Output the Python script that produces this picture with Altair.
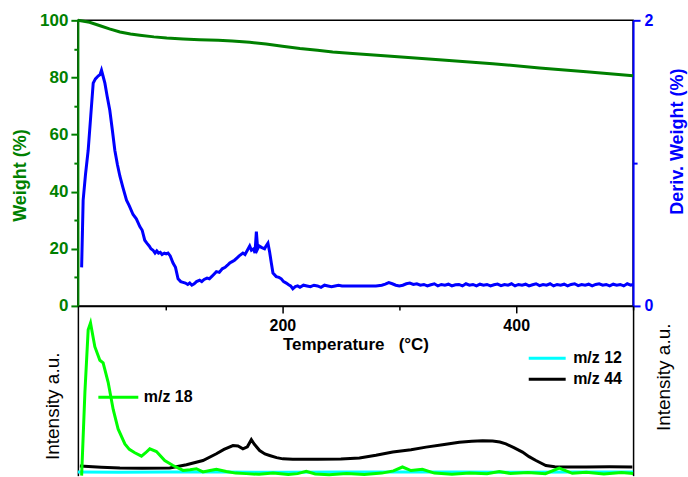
import altair as alt
import pandas as pd

# ---------------- data ----------------
weight_T = [25, 35, 44, 52, 61, 70, 78, 90, 101, 115, 129, 145, 157, 172, 186, 200, 215, 230, 243, 260, 290, 334, 380, 420, 460, 500]
weight_W = [100, 99.3, 98.1, 97.0, 95.9, 95.2, 94.8, 94.2, 93.8, 93.5, 93.2, 93.0, 92.8, 92.3, 91.7, 90.9, 90.1, 89.5, 88.9, 88.4, 87.5, 86.2, 84.8, 83.3, 82.0, 80.6]

deriv_T = [28.2, 29.5, 31.5, 33.8, 36, 38.1, 40, 42.3, 44, 45.2, 46.5, 48.1, 50, 52.3, 54.5, 56.6, 58.8, 60.9, 63.5, 66.6,
           69, 72.2, 75, 78, 80, 82.2, 84, 86, 87.5, 89.3, 91, 92.5, 94, 95.5, 97, 99, 100.5, 102.1, 104, 106.4,
           108.5, 110.7, 113, 115, 117, 119, 120.7, 122.5, 124.5, 126.5, 129.2, 131, 133, 135.5, 137.5, 140, 143.5, 146, 148.5, 151,
           153, 154.9, 157, 159, 161, 163, 166.2, 168, 170, 172, 173.5, 175.4, 176.5, 177.7, 178.8, 180, 182, 184.7, 186, 187.6,
           189, 190.5, 191.9, 194.7, 197, 199, 201, 203.3, 205, 207, 208.9, 211, 213, 215, 218, 221, 224, 227, 230, 233,
           236, 239, 242, 245, 248, 251, 256, 262, 268, 274, 280, 285, 288, 291, 294, 297, 300, 303, 306, 309,
           312, 315, 318, 321, 324, 327, 330, 333, 336, 339, 342, 345, 348, 351, 354, 357, 360, 363, 366, 369,
           372, 375, 378, 381, 384, 387, 390, 393, 396, 399, 402, 405, 408, 411, 414, 417, 420, 423, 426, 429,
           432, 435, 438, 441, 444, 447, 450, 453, 456, 459, 462, 465, 468, 471, 474, 477, 480, 483, 486, 489,
           492, 495, 498, 500]
deriv_D = [0.27, 0.74, 0.92, 1.09, 1.33, 1.56, 1.59, 1.61, 1.62, 1.65, 1.61, 1.56, 1.47, 1.37, 1.23, 1.09, 0.99, 0.91, 0.83, 0.74,
           0.70, 0.64, 0.61, 0.556, 0.53, 0.46, 0.44, 0.42, 0.40, 0.39, 0.37, 0.385, 0.37, 0.375, 0.36, 0.37, 0.365, 0.37, 0.35, 0.30,
           0.27, 0.19, 0.17, 0.165, 0.16, 0.15, 0.16, 0.145, 0.155, 0.17, 0.18, 0.17, 0.185, 0.195, 0.19, 0.21, 0.24, 0.235, 0.26, 0.27,
           0.285, 0.30, 0.31, 0.32, 0.335, 0.35, 0.37, 0.36, 0.39, 0.42, 0.39, 0.40, 0.37, 0.52, 0.40, 0.42, 0.41, 0.40, 0.42, 0.44,
           0.38, 0.30, 0.23, 0.205, 0.20, 0.19, 0.17, 0.16, 0.15, 0.14, 0.12, 0.135, 0.14, 0.13, 0.145, 0.14, 0.135, 0.145, 0.14, 0.13,
           0.145, 0.14, 0.135, 0.14, 0.145, 0.14, 0.14, 0.14, 0.14, 0.14, 0.14, 0.145, 0.152, 0.163, 0.155, 0.145, 0.14, 0.145, 0.155, 0.16,
           0.15, 0.155, 0.145, 0.15, 0.14, 0.148, 0.155, 0.14, 0.15, 0.145, 0.152, 0.14, 0.148, 0.15, 0.14, 0.155, 0.145, 0.15, 0.14, 0.152,
           0.145, 0.15, 0.14, 0.148, 0.153, 0.142, 0.15, 0.145, 0.155, 0.14, 0.15, 0.145, 0.152, 0.14, 0.148, 0.155, 0.142, 0.15, 0.145, 0.155,
           0.14, 0.15, 0.145, 0.152, 0.14, 0.15, 0.155, 0.142, 0.15, 0.145, 0.152, 0.14, 0.15, 0.155, 0.145, 0.15, 0.14, 0.152, 0.145, 0.15,
           0.14, 0.155, 0.145, 0.15]

mz12_T = [25, 60, 100, 150, 200, 250, 300, 350, 400, 450, 500]
mz12_I = [2.2, 2.0, 2.1, 2.1, 2.0, 2.1, 2.2, 2.1, 2.0, 2.1, 2.1]

mz44_T = [26.7, 45, 60.9, 80, 103.6, 117.9, 132, 143.5, 150, 157.7, 162, 166.2, 170, 173.4, 176, 180.5, 185, 189, 195, 200.4,
          208.9, 230, 250, 265.9, 280, 294.4, 310, 322.9, 337, 351.3, 362, 371.3, 379.8, 386, 391.2, 398, 405.4, 411, 416.9, 425.4,
          433, 442.5, 460, 480, 499.4]
mz44_I = [5.7, 5.0, 4.5, 4.4, 4.5, 6.4, 8.9, 12.9, 15.5, 17.7, 17.5, 15.8, 17.0, 21.2, 18.5, 14.8, 12.8, 11.9, 10.6, 9.9,
          9.6, 9.6, 9.8, 10.4, 12.0, 13.9, 15.3, 16.8, 18.2, 19.7, 20.3, 20.6, 20.4, 19.8, 18.7, 16.5, 13.9, 11.2, 8.9, 6.0,
          5.3, 5.1, 5.1, 5.2, 5.1]

mz18_T = [28.2, 31, 33.8, 35.8, 39.5, 43.8, 46.6, 50.9, 55.2, 59.4, 65.2, 69, 73.7, 79.4, 83, 86.5, 92.2, 99.3, 106.4, 115,
          121, 126.4, 132, 138, 143.5, 152, 160, 169, 180, 192, 205, 213, 220.4, 228, 240, 255, 270, 285, 295, 302.7,
          310, 319.7, 330, 345, 360, 375, 385.5, 395, 410, 425, 436.8, 448, 460, 475, 490, 500]
mz18_I = [0, 49, 86, 90, 76, 68, 66.5, 55, 39, 27.5, 18.7, 15.5, 13.5, 11.5, 13.5, 15.8, 14.2, 8.9, 6.0, 3.1,
          3.5, 4.1, 2.2, 3.0, 3.7, 2.5, 1.5, 1.2, 0.8, 1.6, 0.7, 1.2, 2.5, 1.0, 0.6, 1.3, 0.7, 1.5, 2.8, 5.1,
          3.0, 3.7, 1.5, 0.8, 1.6, 1.1, 2.5, 1.3, 1.8, 1.2, 4.5, 1.4, 2.0, 1.0, 1.8, 1.3]

series_12_44 = ["m/z 12", "m/z 44"]
series_18 = ["m/z 18"]

# ---------------- styling ----------------
FONT = "Liberation Sans"
GREEN = "#008000"
BLUE = "#0000FF"
CYAN = "#00FFFF"
LIME = "#00FF00"

wdf = pd.DataFrame({"T": weight_T, "W": weight_W})
ddf = pd.DataFrame({"T": deriv_T, "D": deriv_D})
df1244 = pd.concat([
    pd.DataFrame({"T": mz12_T, "I": mz12_I, "s": series_12_44[0]}),
    pd.DataFrame({"T": mz44_T, "I": mz44_I, "s": series_12_44[1]}),
])
df18 = pd.DataFrame({"T": mz18_T, "I": mz18_I, "s": series_18[0]})

xs = alt.Scale(domain=[25, 500], nice=False, zero=False)
ws = alt.Scale(domain=[0, 100], nice=False, zero=False)
dsc = alt.Scale(domain=[0, 2], nice=False, zero=False)
isc = alt.Scale(domain=[0, 100], nice=False, zero=False)

x_main = alt.Axis(orient="bottom", values=[200, 400], tickSize=7, tickWidth=1.5, tickColor="black",
                  domainColor="black", domainWidth=1.5, labelFont=FONT, labelFontSize=16,
                  labelFontWeight="bold", labelColor="black", labelPadding=5, labelFlush=False,
                  title="Temperature\u00a0\u00a0\u00a0(°C)", titleFont=FONT, titleFontSize=17,
                  titleFontWeight="bold", titleColor="black", titlePadding=3, grid=False)
x_minor = alt.Axis(orient="bottom", values=[100, 300, 500], tickSize=4, tickWidth=1.5, tickColor="black",
                   domain=False, labels=False, title=None, grid=False)

w_axis = alt.Axis(orient="left", values=[0, 20, 40, 60, 80, 100], tickSize=7, tickWidth=2, tickColor=GREEN,
                  domainColor=GREEN, domainWidth=2, labelColor=GREEN, labelFont=FONT, labelFontSize=17,
                  labelFontWeight="bold", labelPadding=3, title="Weight (%)", titleColor=GREEN,
                  titleFont=FONT, titleFontSize=18, titleFontWeight="bold", titlePadding=10,
                  titleY=155, grid=False)
w_minor_axis = alt.Axis(orient="left", values=[10, 30, 50, 70, 90], tickSize=4, tickWidth=2, tickColor=GREEN,
                        domain=False, labels=False, title=None, grid=False)

d_axis = alt.Axis(orient="right", values=[0, 2], tickSize=7, tickWidth=2, tickColor=BLUE,
                  domainColor=BLUE, domainWidth=2, labelColor=BLUE, labelFont=FONT, labelFontSize=16,
                  labelFontWeight="bold", labelPadding=4, title="Deriv. Weight (%)", titleColor=BLUE,
                  titleFont=FONT, titleFontSize=18, titleFontWeight="bold", titleAngle=270,
                  titleBaseline="top", titlePadding=16, titleY=121, grid=False)
d_minor_axis = alt.Axis(orient="right", values=[1], tickSize=4, tickWidth=2, tickColor=BLUE,
                        domain=False, labels=False, title=None, grid=False)

w_line = alt.Chart(wdf).mark_line(color=GREEN, strokeWidth=3).encode(
    x=alt.X("T:Q", scale=xs, axis=x_main),
    y=alt.Y("W:Q", scale=ws, axis=w_axis),
)
w_minor = alt.Chart(wdf).mark_line(color=GREEN, strokeWidth=3, opacity=0).encode(
    x=alt.X("T:Q", scale=xs, axis=x_minor),
    y=alt.Y("W:Q", scale=ws, axis=w_minor_axis),
)
d_line = alt.Chart(ddf).mark_line(color=BLUE, strokeWidth=3).encode(
    x=alt.X("T:Q", scale=xs, axis=None),
    y=alt.Y("D:Q", scale=dsc, axis=d_axis),
)
d_minor = alt.Chart(ddf).mark_line(color=BLUE, strokeWidth=3, opacity=0).encode(
    x=alt.X("T:Q", scale=xs, axis=None),
    y=alt.Y("D:Q", scale=dsc, axis=d_minor_axis),
)

top = alt.layer(
    alt.layer(w_line, w_minor).resolve_axis(x="independent", y="independent"),
    alt.layer(d_line, d_minor).resolve_axis(y="independent"),
).resolve_scale(y="independent").resolve_axis(x="independent", y="independent").properties(
    width=556, height=286, view=alt.ViewBackground(stroke="black", strokeWidth=1.5)
)

i_left = alt.Axis(orient="left", labels=False, ticks=False, domainColor="black", domainWidth=1.5,
                  title="Intensity a.u.", titleFont=FONT, titleFontSize=19, titleFontWeight="normal",
                  titleColor="black", titlePadding=15, titleY=100, grid=False)
i_right = alt.Axis(orient="right", labels=False, ticks=False, domainColor="black", domainWidth=1.5,
                   title="Intensity a.u.", titleFont=FONT, titleFontSize=19, titleFontWeight="normal",
                   titleColor="black", titleAngle=270, titleBaseline="top", titlePadding=21,
                   titleY=71, grid=False)

leg_common = dict(orient="none", title=None, symbolType="stroke", symbolStrokeWidth=3, clipHeight=21,
                  rowPadding=0, padding=0, labelFont=FONT, labelFontSize=16, labelFontWeight="bold",
                  labelColor="black")

b1244 = alt.Chart(df1244).mark_line(strokeWidth=3).encode(
    x=alt.X("T:Q", scale=xs, axis=None),
    y=alt.Y("I:Q", scale=isc, axis=i_left),
    color=alt.Color("s:N", scale=alt.Scale(domain=series_12_44, range=[CYAN, "black"]),
                    legend=alt.Legend(legendX=450, legendY=42, symbolSize=1369, labelOffset=6, **leg_common)),
)
b18 = alt.Chart(df18).mark_line(strokeWidth=3).encode(
    x=alt.X("T:Q", scale=xs, axis=None),
    y=alt.Y("I:Q", scale=isc, axis=i_right),
    color=alt.Color("s:N", scale=alt.Scale(domain=series_18, range=[LIME]),
                    legend=alt.Legend(legendX=19, legendY=81, symbolSize=1600, labelOffset=4, **leg_common)),
)

bottom = alt.layer(b1244, b18).resolve_scale(color="independent").resolve_axis(y="independent").properties(
    width=556, height=170, view=alt.ViewBackground(strokeWidth=0)
)

chart = alt.vconcat(top, bottom, spacing=0, bounds="flush").properties(
    padding={"left": 10, "top": 10, "right": 0, "bottom": 0}
).configure_view(strokeWidth=0)

chart.save("out.html", embed_options={"renderer": "svg", "actions": False})
